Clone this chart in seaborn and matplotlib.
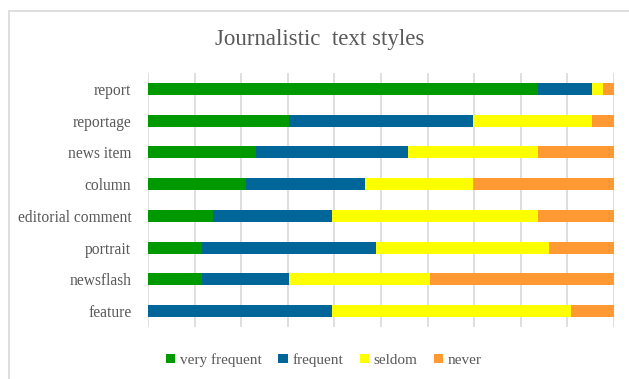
import numpy as np
import pandas as pd
import matplotlib
matplotlib.use("Agg")
import matplotlib.pyplot as plt
from matplotlib.patches import Patch
from matplotlib.lines import Line2D
import seaborn as sns

# Data: number of responses (N = 43) per text style
categories = ["report", "reportage", "news item", "column",
              "editorial comment", "portrait", "newsflash", "feature"]
very_frequent = [36, 13, 10, 9, 6, 5, 5, 0]
frequent      = [5, 17, 14, 11, 11, 16, 8, 17]
seldom        = [1, 11, 12, 10, 19, 16, 13, 22]
never         = [1, 2, 7, 13, 7, 6, 17, 4]

series_names = ["very frequent", "frequent", "seldom", "never"]
series_colors = ["#009A00", "#006699", "#FFFF00", "#FF9933"]

sns.set_theme(style="white")
plt.rcParams["font.family"] = ["Liberation Serif", "DejaVu Serif"]

df = pd.DataFrame({"category": categories,
                   "very frequent": very_frequent,
                   "frequent": frequent,
                   "seldom": seldom,
                   "never": never})
totals = df[series_names].sum(axis=1)
shares = df[series_names].div(totals, axis=0)
cum = shares.cumsum(axis=1)
cum["category"] = df["category"]

fig = plt.figure(figsize=(6.29, 3.79), dpi=100)
ax = fig.add_axes([148/629, 1-327/379, 466/629, 254/379])

# grid
for v in np.arange(0, 1.01, 0.1):
    ax.axvline(v, color="#D9D9D9", lw=1.2, zorder=0)

# stacked bars: draw cumulative from the last series back to the first
for name, col in zip(series_names[::-1], series_colors[::-1]):
    sns.barplot(data=cum, x=name, y="category", order=categories,
                color=col, width=0.38, orient="h", ax=ax, zorder=2,
                saturation=1, edgecolor="none", linewidth=0)

ax.set_xlim(0, 1)
ax.set_ylim(len(categories) - 0.5, -0.5)
ax.set_xlabel("")
ax.set_ylabel("")
ax.set_xticks([])
for s in ax.spines.values():
    s.set_visible(False)
ax.tick_params(axis="y", length=0, pad=12, labelsize=11.2, labelcolor="#595959")

fig.text(320/629, 1-39/379, "Journalistic  text styles", ha="center", va="center",
         fontsize=16.5, color="#595959", family="Liberation Serif")

# chart frame (top and left edges visible)
fig.add_artist(Line2D([9/629, 9/629], [0, 1-11/379], transform=fig.transFigure,
                      color="#D9D9D9", lw=1.2))
fig.add_artist(Line2D([9/629, 1], [1-11/379, 1-11/379], transform=fig.transFigure,
                      color="#D9D9D9", lw=1.2))

handles = [Patch(facecolor=c, edgecolor="none", label=n)
           for n, c in zip(series_names, series_colors)]
leg = fig.legend(handles=handles, loc="center", ncol=4,
                 bbox_to_anchor=(324/629, 1-360/379), frameon=False,
                 handlelength=0.6, handleheight=0.6, handletextpad=0.3,
                 columnspacing=1.1,
                 prop={"family": "Liberation Serif", "size": 11})
for t in leg.get_texts():
    t.set_color("#595959")

fig.savefig("out.png", dpi=100)
